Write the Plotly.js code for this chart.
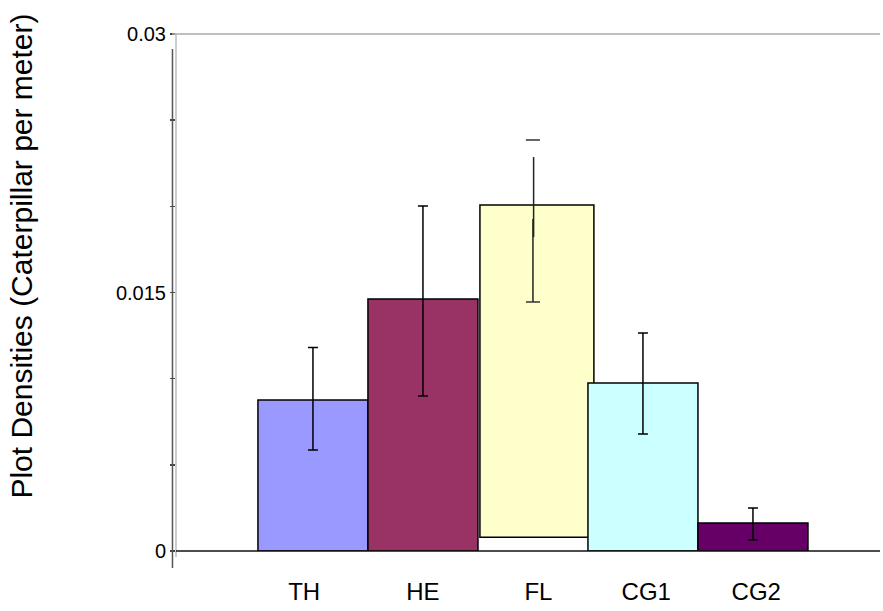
<!DOCTYPE html>
<html>
<head>
<meta charset="utf-8">
<script src="https://cdn.plot.ly/plotly-3.0.1.min.js"></script>
<style>html,body{margin:0;padding:0;background:#fff;}#chart{width:883px;height:611px;}</style>
</head>
<body>
<div id="chart"></div>
<script>
// ---- data ----
var categories = ['TH', 'HE', 'FL', 'CG1', 'CG2'];
var barTops   = [0.00876, 0.01462, 0.02008, 0.00975, 0.00162];
var barBases  = [0, 0, 0.0008, 0, 0];
var errPlus   = [0.00305, 0.00540, null, 0.00290, 0.00088];
var errMinus  = [0.00290, 0.00563, null, 0.00296, 0.00098];
var barColors = ['#9999FF', '#993366', '#FFFFCC', '#CCFFFF', '#660066'];
// FL error bar is drawn broken in the original
var flLowerSeg = [0.01445, 0.01927];
var flUpperSeg = [0.01822, 0.02286];
var flMarks    = [0.01445, 0.02385];
var yTickVals  = [0, 0.015, 0.03];
var yTickText  = ['0', '0.015', '0.03'];
var yTitle = 'Plot Densities (Caterpillar per meter)';

var idx = categories.map(function(_, i){ return i; });
var lengths = barTops.map(function(t, i){ return t - barBases[i]; });
var widths = categories.map(function(c){ return c === 'FL' ? 1.036 : 1; });
var offsets = categories.map(function(c){ return c === 'FL' ? -0.482 : -0.5; });
var labelShift = { TH: -0.08, HE: 0, FL: 0.05, CG1: 0.03, CG2: 0.03 };
var labelPos = categories.map(function(c, i){ return i + labelShift[c]; });

var flIndex = categories.indexOf('FL');
var errIdx = [], errY = [], errP = [], errM = [];
idx.forEach(function(i){
  if (errPlus[i] !== null) { errIdx.push(i); errY.push(barTops[i]); errP.push(errPlus[i]); errM.push(errMinus[i]); }
});

var font = 'Liberation Sans, Arial, sans-serif';
var traces = [
  {
    type: 'bar', x: idx, y: lengths, base: barBases, width: widths, offset: offsets,
    marker: { color: barColors, line: { color: '#000', width: 1.5 } },
    hoverinfo: 'skip', showlegend: false
  },
  {
    type: 'scatter', mode: 'markers', x: errIdx, y: errY,
    marker: { size: 0.1, color: 'rgba(0,0,0,0)' },
    error_y: { type: 'data', symmetric: false, array: errP, arrayminus: errM, color: '#000', thickness: 1.5, width: 5 },
    hoverinfo: 'skip', showlegend: false
  },
  {
    type: 'scatter', mode: 'lines', x: [flIndex, flIndex], y: flLowerSeg,
    line: { color: '#222', width: 1.5 }, hoverinfo: 'skip', showlegend: false
  },
  {
    type: 'scatter', mode: 'lines', x: [flIndex + 0.006, flIndex + 0.006], y: flUpperSeg,
    line: { color: '#222', width: 1.5 }, hoverinfo: 'skip', showlegend: false
  },
  {
    type: 'scatter', mode: 'markers', x: [flIndex, flIndex], y: flMarks,
    marker: { symbol: 'line-ew', size: 10, line: { color: '#333', width: 1.5 } },
    hoverinfo: 'skip', showlegend: false
  }
];

var layout = {
  width: 883, height: 611,
  margin: { l: 176, r: 3, t: 34, b: 60, pad: 0 },
  paper_bgcolor: '#fff', plot_bgcolor: '#fff',
  bargap: 0,
  font: { family: font, color: '#000', size: 20 },
  xaxis: {
    range: [-1.245, 5.155], tickmode: 'array', tickvals: labelPos, ticktext: categories,
    showgrid: false, zeroline: false, showline: false, ticks: '',
    ticklabelstandoff: 24, tickfont: { size: 24, family: font, color: '#000' }, fixedrange: true
  },
  yaxis: {
    range: [0, 0.03], tickmode: 'array', tickvals: yTickVals, ticktext: yTickText,
    showgrid: false, zeroline: false, showline: false,
    ticks: 'outside', ticklen: 5, tickwidth: 1.5, tickcolor: '#444',
    minor: { dtick: 0.005, tick0: 0, ticks: 'outside', ticklen: 5, tickwidth: 1.5, tickcolor: '#444' },
    tickfont: { size: 20, family: font, color: '#000' }, fixedrange: true
  },
  shapes: [
    { type: 'line', xref: 'paper', yref: 'paper', x0: -0.0057, x1: 1, y0: 1, y1: 1, line: { color: '#aaa', width: 1.5 } },
    { type: 'line', xref: 'paper', yref: 'paper', x0: 0, x1: 0, y0: -0.0116, y1: 1, line: { color: '#bbb', width: 1.5 } },
    { type: 'line', xref: 'paper', yref: 'paper', x0: -0.005, x1: -0.005, y0: -0.0329, y1: 0.971, line: { color: '#555', width: 1.5 } },
    { type: 'line', xref: 'paper', yref: 'paper', x0: 0, x1: 1, y0: 0, y1: 0, line: { color: '#111', width: 1.5 } }
  ],
  annotations: [
    { text: yTitle, textangle: -90, xref: 'paper', yref: 'paper', x: -0.219, y: 0.571,
      showarrow: false, xanchor: 'center', yanchor: 'middle', font: { size: 30, family: font, color: '#000' } }
  ]
};

Plotly.newPlot('chart', traces, layout, { staticPlot: true, displayModeBar: false });
</script>
</body>
</html>
